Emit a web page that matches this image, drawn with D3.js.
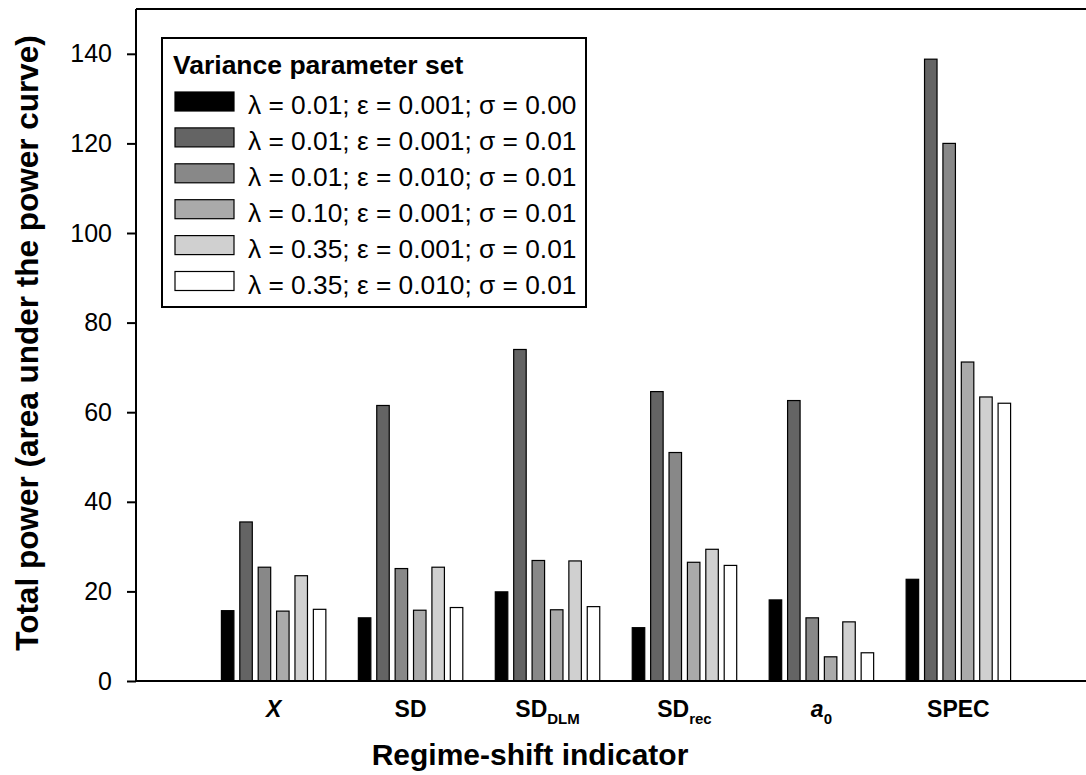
<!DOCTYPE html>
<html>
<head>
<meta charset="utf-8">
<script src="https://cdn.jsdelivr.net/npm/d3@7"></script>
<style>
  html, body { margin: 0; padding: 0; background: #fff; }
  svg { display: block; font-family: "Liberation Sans", Arial, Helvetica, sans-serif; }
</style>
</head>
<body>
<svg id="chart" width="1086" height="775"></svg>
<script>
// ---- data ----
const categories = ["X", "SD", "SD_DLM", "SD_rec", "a0", "SPEC"];
const seriesNames = [
  "λ = 0.01; ε = 0.001; σ = 0.00",
  "λ = 0.01; ε = 0.001; σ = 0.01",
  "λ = 0.01; ε = 0.010; σ = 0.01",
  "λ = 0.10; ε = 0.001; σ = 0.01",
  "λ = 0.35; ε = 0.001; σ = 0.01",
  "λ = 0.35; ε = 0.010; σ = 0.01"
];
const series1 = [15.7, 14.1, 19.9, 11.9, 18.1, 22.7];
const series2 = [35.5, 61.5, 74.0, 64.6, 62.6, 138.8];
const series3 = [25.4, 25.1, 26.9, 51.0, 14.1, 120.0];
const series4 = [15.6, 15.8, 15.9, 26.5, 5.4, 71.2];
const series5 = [23.5, 25.4, 26.8, 29.4, 13.2, 63.4];
const series6 = [16.0, 16.4, 16.6, 25.8, 6.3, 62.0];
const seriesValues = [series1, series2, series3, series4, series5, series6];
const yTicks = [0, 20, 40, 60, 80, 100, 120, 140];
const legendTitle = "Variance parameter set";
const xTitle = "Regime-shift indicator";
const yTitle = "Total power (area under the power curve)";

(function () {
// ---- styles ----
const fills = ["#000000", "#646464", "#888888", "#aaaaaa", "#d0d0d0", "#ffffff"];
const FONT = "'Liberation Sans', Arial, Helvetica, sans-serif";

const svg = d3.select("#chart");
const pLeft = 136, pTop = 9, pBottom = 681, pRight = 1096;

const y = d3.scaleLinear().domain([0, 150]).range([pBottom, pTop]);
const x0 = d3.scaleBand().domain(categories).range([pLeft, pRight])
  .paddingInner(0.23).paddingOuter(0.62);
const seriesIdx = d3.range(seriesValues.length);
const x1 = d3.scaleBand().domain(seriesIdx).range([0, x0.bandwidth()])
  .paddingInner(0.266).paddingOuter(0);

// bars
const groups = svg.append("g").selectAll("g").data(categories).join("g")
  .attr("transform", d => `translate(${x0(d)},0)`);
groups.selectAll("rect")
  .data((c, ci) => seriesIdx.map(si => ({ si, v: seriesValues[si][ci] })))
  .join("rect")
  .attr("x", d => x1(d.si) + 0.5)
  .attr("width", x1.bandwidth() - 1)
  .attr("y", d => y(d.v))
  .attr("height", d => y(0) - y(d.v))
  .attr("fill", d => fills[d.si])
  .attr("stroke", "#000")
  .attr("stroke-width", 1.2);

// top frame line
svg.append("line").attr("x1", pLeft).attr("x2", pRight)
  .attr("y1", pTop).attr("y2", pTop)
  .attr("stroke", "#000").attr("stroke-width", 2);

// y axis
const yAxis = svg.append("g").attr("transform", `translate(${pLeft},0)`)
  .call(d3.axisLeft(y).tickValues(yTicks).tickSize(9).tickPadding(15).tickFormat(d3.format("d")));
yAxis.select(".domain").attr("d", `M0,${pTop}V${pBottom}`).attr("stroke-width", 2);
yAxis.selectAll(".tick line").attr("stroke-width", 2);
yAxis.selectAll(".tick text").attr("font-size", 25).attr("font-family", FONT).attr("fill", "#000");

// x axis
const xAxis = svg.append("g").attr("transform", `translate(0,${pBottom})`)
  .call(d3.axisBottom(x0).tickSize(0).tickFormat(""));
xAxis.select(".domain").attr("stroke-width", 2).attr("d", `M${pLeft},0H${pRight}`);

// x tick labels with subscripts
const labelParts = {
  "X": [{ t: "X", italic: true }],
  "SD": [{ t: "SD" }],
  "SD_DLM": [{ t: "SD" }, { t: "DLM", sub: true }],
  "SD_rec": [{ t: "SD" }, { t: "rec", sub: true }],
  "a0": [{ t: "a", italic: true }, { t: "0", sub: true }],
  "SPEC": [{ t: "SPEC" }]
};
categories.forEach(c => {
  const tx = svg.append("text")
    .attr("x", x0(c) + x0.bandwidth() / 2)
    .attr("y", 717)
    .attr("text-anchor", "middle")
    .attr("font-family", FONT)
    .attr("font-weight", "bold")
    .attr("font-size", 23);
  labelParts[c].forEach(p => {
    const ts = tx.append("tspan").text(p.t);
    if (p.italic) ts.attr("font-style", "italic");
    if (p.sub) ts.attr("font-size", 15).attr("dy", 7);
  });
});

// axis titles
svg.append("text")
  .attr("x", 530)
  .attr("y", 765)
  .attr("text-anchor", "middle")
  .attr("font-family", FONT).attr("font-weight", "bold").attr("font-size", 30)
  .text(xTitle);
svg.append("text")
  .attr("transform", `translate(38,${343}) rotate(-90)`)
  .attr("text-anchor", "middle")
  .attr("font-family", FONT).attr("font-weight", "bold").attr("font-size", 31.5)
  .text(yTitle);

// legend
const lg = svg.append("g");
lg.append("rect").attr("x", 162).attr("y", 38).attr("width", 424).attr("height", 269)
  .attr("fill", "#fff").attr("stroke", "#000").attr("stroke-width", 2);
lg.append("text").attr("x", 173).attr("y", 74)
  .attr("font-family", FONT).attr("font-weight", "bold").attr("font-size", 26.5)
  .text(legendTitle);
const rows = lg.selectAll("g.row").data(seriesNames).join("g").attr("class", "row")
  .attr("transform", (d, i) => `translate(0,${92 + i * 35.9})`);
rows.append("rect").attr("x", 175).attr("y", 0).attr("width", 59).attr("height", 19)
  .attr("fill", (d, i) => fills[i]).attr("stroke", "#000").attr("stroke-width", 1.2);
rows.append("text").attr("x", 248).attr("y", 22)
  .attr("font-family", FONT).attr("font-size", 26.3)
  .text(d => d);
})();
</script>
</body>
</html>
